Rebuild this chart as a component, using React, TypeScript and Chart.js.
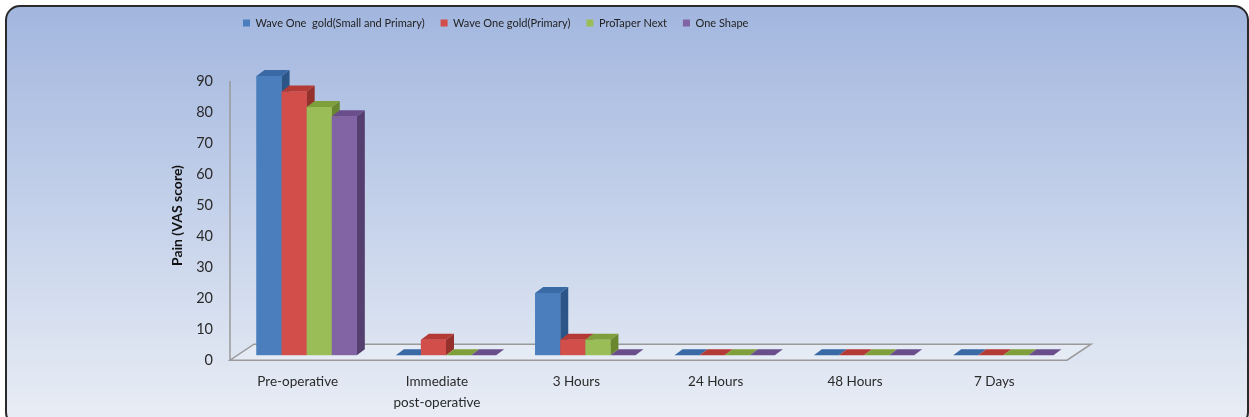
import React, { useEffect, useRef } from "react";
import { Chart, registerables } from "chart.js";

Chart.register(...registerables);

// ---- data ----
const categories: (string | string[])[] = [
  "Pre-operative",
  ["Immediate", "post-operative"],
  "3 Hours",
  "24 Hours",
  "48 Hours",
  "7 Days",
];
const seriesNames = [
  "Wave One  gold(Small and Primary)",
  "Wave One gold(Primary)",
  "ProTaper Next",
  "One Shape",
];
const waveOneSmallPrimary = [90, 0, 20, 0, 0, 0];
const waveOnePrimary = [85, 5, 5, 0, 0, 0];
const proTaperNext = [80, 0, 5, 0, 0, 0];
const oneShape = [77, 0, 0, 0, 0, 0];
const yMin = 0;
const yMax = 90;
const yStep = 10;
const yTitle = "Pain (VAS score)";

// ---- styles ----
const FONT = "Lato, 'Open Sans', sans-serif";
const FRONT = ["#4a7ebd", "#d24e4a", "#9bbd58", "#8264a4"];
const TOP = ["#3a6aa6", "#b43a36", "#7f9e3c", "#6a4e8c"];
const SIDE = ["#2c5687", "#95302c", "#69872f", "#553f70"];
const DX = 8;
const DY = -6;
const PAD_LEFT = 142;
const PLOT_LEFT = 237;

const backgroundPlugin = {
  id: "bg3d",
  beforeDraw(chart: any) {
    const { ctx, width, height } = chart;
    ctx.save();
    ctx.fillStyle = "#ffffff";
    ctx.fillRect(0, 0, width, height);
    const x0 = 6, y0 = 6, x1 = 1248, y1 = 426, r = 14;
    ctx.beginPath();
    ctx.moveTo(x0 + r, y0);
    ctx.lineTo(x1 - r, y0);
    ctx.arcTo(x1, y0, x1, y0 + r, r);
    ctx.lineTo(x1, y1 - r);
    ctx.arcTo(x1, y1, x1 - r, y1, r);
    ctx.lineTo(x0 + r, y1);
    ctx.arcTo(x0, y1, x0, y1 - r, r);
    ctx.lineTo(x0, y0 + r);
    ctx.arcTo(x0, y0, x0 + r, y0, r);
    ctx.closePath();
    const g = ctx.createLinearGradient(0, 0, 0, height);
    g.addColorStop(0, "#a1b5de");
    g.addColorStop(0.5, "#c4d1ea");
    g.addColorStop(1, "#e8edf5");
    ctx.fillStyle = g;
    ctx.fill();
    ctx.lineWidth = 2;
    ctx.strokeStyle = "#2a2a2a";
    ctx.stroke();
    ctx.restore();
  },
};

const floorPlugin = {
  id: "floor3d",
  beforeDatasetsDraw(chart: any) {
    const { ctx, chartArea, scales } = chart;
    const y0 = scales.y.getPixelForValue(yMin);
    const yTop = scales.y.getPixelForValue(yMax);
    const fy = y0 + 5;
    const fxL = chartArea.left - 7;
    const fxR = chartArea.right - 6;
    const fdx = 24;
    const fdy = -16;
    ctx.save();
    ctx.beginPath();
    ctx.moveTo(fxL, fy);
    ctx.lineTo(fxR, fy);
    ctx.lineTo(fxR + fdx, fy + fdy);
    ctx.lineTo(fxL + fdx, fy + fdy);
    ctx.closePath();
    ctx.fillStyle = "rgba(255,255,255,0.25)";
    ctx.fill();
    ctx.lineWidth = 1.5;
    ctx.strokeStyle = "#9a9a9a";
    ctx.stroke();
    ctx.beginPath();
    ctx.moveTo(fxL, yTop + 5);
    ctx.lineTo(fxL, fy);
    ctx.stroke();
    ctx.restore();
  },
};

const barsPlugin = {
  id: "bars3d",
  afterDatasetsDraw(chart: any) {
    const { ctx } = chart;
    ctx.save();
    chart.data.datasets.forEach((_ds: any, i: number) => {
      const meta = chart.getDatasetMeta(i);
      meta.data.forEach((bar: any) => {
        const { x, y, base, width } = bar.getProps(["x", "y", "base", "width"], true);
        const l = x - width / 2;
        const r = x + width / 2;
        ctx.beginPath();
        ctx.moveTo(r, y);
        ctx.lineTo(r + DX, y + DY);
        ctx.lineTo(r + DX, base + DY);
        ctx.lineTo(r, base);
        ctx.closePath();
        ctx.fillStyle = SIDE[i];
        ctx.fill();
        ctx.beginPath();
        ctx.moveTo(l, y);
        ctx.lineTo(l + DX, y + DY);
        ctx.lineTo(r + DX, y + DY);
        ctx.lineTo(r, y);
        ctx.closePath();
        ctx.fillStyle = TOP[i];
        ctx.fill();
        if (base - y > 0.5) {
          ctx.fillStyle = FRONT[i];
          ctx.fillRect(l, y, width, base - y);
        }
      });
    });
    ctx.restore();
  },
};

const legendShiftPlugin = {
  id: "legendShift",
  afterLayout(chart: any) {
    const lg = chart.legend;
    if (!lg) return;
    const pad = lg.options.labels.padding;
    lg.left = 243 - pad;
    lg.top = 23 - pad - 5.5;
  },
};

export default function App() {
  const ref = useRef<HTMLCanvasElement | null>(null);
  useEffect(() => {
    if (!ref.current) return;
    const series = [waveOneSmallPrimary, waveOnePrimary, proTaperNext, oneShape];
    const chart = new Chart(ref.current, {
      type: "bar",
      data: {
        labels: categories as any,
        datasets: series.map((d, i) => ({
          label: seriesNames[i],
          data: d,
          backgroundColor: FRONT[i],
          borderWidth: 0,
          categoryPercentage: 0.72,
          barPercentage: 1.0,
        })),
      },
      options: {
        animation: false,
        responsive: false,
        devicePixelRatio: 1,
        layout: { padding: { left: PAD_LEFT, right: 176, top: 39, bottom: -12 } },
        plugins: {
          tooltip: { enabled: false },
          legend: {
            position: "top",
            align: "start",
            labels: {
              boxWidth: 7,
              boxHeight: 7,
              padding: 16,
              color: "#222",
              font: { family: FONT, size: 11 },
            },
          },
        },
        scales: {
          x: {
            grid: { display: false, drawTicks: false },
            border: { display: false },
            ticks: {
              color: "#2a2a2a",
              font: { family: FONT, size: 13.5, lineHeight: 1.55 },
              padding: 16,
              labelOffset: -9,
              maxRotation: 0,
              autoSkip: false,
            },
          },
          y: {
            min: yMin,
            max: yMax,
            grid: { display: false, drawTicks: false },
            border: { display: false },
            afterFit(scale: any) {
              scale.width = PLOT_LEFT - PAD_LEFT;
            },
            ticks: {
              stepSize: yStep,
              color: "#2a2a2a",
              font: { family: FONT, size: 14.5 },
              padding: 24,
              labelOffset: 5,
            },
            title: {
              display: true,
              text: yTitle,
              color: "#111",
              font: { family: FONT, size: 14, weight: "bold" },
              padding: { top: 27, bottom: 4 },
            },
          },
        },
      },
      plugins: [backgroundPlugin, floorPlugin, barsPlugin, legendShiftPlugin],
    });
    return () => chart.destroy();
  }, []);
  return (
    <div style={{ position: "absolute", left: 0, top: 0, width: 1249, height: 417 }}>
      <canvas ref={ref} width={1249} height={417} style={{ display: "block" }} />
    </div>
  );
}
